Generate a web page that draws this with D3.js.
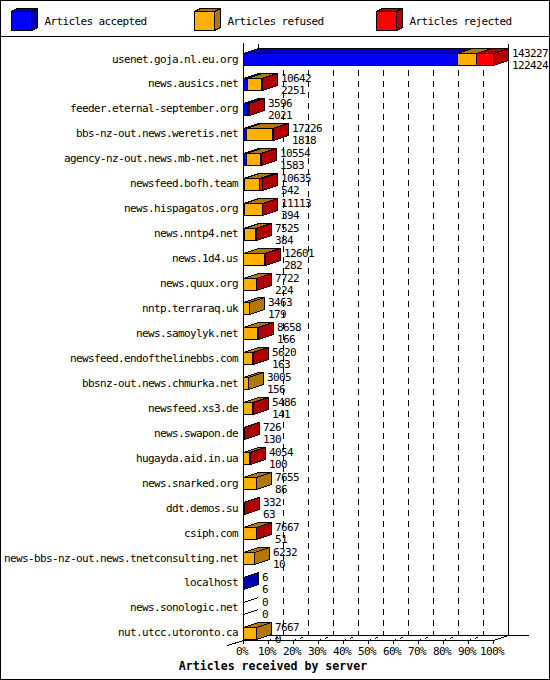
<!DOCTYPE html>
<html>
<head>
<meta charset="utf-8">
<script src="https://cdn.jsdelivr.net/npm/d3@7"></script>
<style>
  body { margin: 0; background: #fff; }
  svg { display: block; font-family: "DejaVu Sans Mono", monospace; font-size: 11px; letter-spacing: -0.62px; }
</style>
</head>
<body>
<svg id="chart"></svg>
<script>
// innd incoming feeds, one row per server
const servers = [
  "usenet.goja.nl.eu.org", "news.ausics.net", "feeder.eternal-september.org",
  "bbs-nz-out.news.weretis.net", "agency-nz-out.news.mb-net.net", "newsfeed.bofh.team",
  "news.hispagatos.org", "news.nntp4.net", "news.1d4.us", "news.quux.org",
  "nntp.terraraq.uk", "news.samoylyk.net", "newsfeed.endofthelinebbs.com",
  "bbsnz-out.news.chmurka.net", "newsfeed.xs3.de", "news.swapon.de", "hugayda.aid.in.ua",
  "news.snarked.org", "ddt.demos.su", "csiph.com", "news-bbs-nz-out.news.tnetconsulting.net",
  "localhost", "news.sonologic.net", "nut.utcc.utoronto.ca"
];
const offered = [143227, 10642, 3596, 17226, 10554, 10635, 11113, 7525, 12601, 7722, 3463, 8658,
  5620, 3005, 5486, 726, 4054, 7655, 332, 7667, 6232, 6, 0, 7667];
const accepted = [122424, 2251, 2021, 1818, 1583, 542, 394, 384, 282, 224, 179, 166,
  163, 156, 141, 130, 100, 86, 63, 51, 10, 6, 0, 0];
// refused / rejected are estimated from the bar segments
const refused = [11000, 8091, 900, 14808, 8071, 8893, 10319, 6741, 11519, 6998, 3284, 7792,
  4857, 2849, 4845, 50, 3354, 7569, 0, 7216, 6222, 0, 0, 7667];
const rejected = [9803, 300, 675, 600, 900, 1200, 400, 400, 800, 500, 0, 700,
  600, 0, 500, 546, 600, 0, 269, 400, 0, 0, 0, 0];

const percentTicks = [0, 10, 20, 30, 40, 50, 60, 70, 80, 90, 100];
const seriesNames = ["Articles accepted", "Articles refused", "Articles rejected"];
const seriesColors = ["#0000ff", "#ffb000", "#ff0000"];
const seriesShades = ["#0000b0", "#b07800", "#b00000"];

// front, top and side faces of a box
function boxFaces(x0, x1, y0, y1, dx, dy) {
  return [
    { face: "side", d: `M${x1},${y0}L${x1 + dx},${y0 - dy}V${y1 - dy}L${x1},${y1}Z` },
    { face: "top", d: `M${x0},${y0}L${x0 + dx},${y0 - dy}H${x1 + dx}L${x1},${y0}Z` },
    { face: "front", d: `M${x0},${y0}H${x1}V${y1}H${x0}Z` }
  ];
}

class StackedBar3D {
  constructor(_config, _data) {
    this.config = {
      parentElement: _config.parentElement,
      containerWidth: _config.containerWidth || 550,
      containerHeight: _config.containerHeight || 680,
      plot: { left: 243, right: 493, top: 43, bottom: 640 },
      depth: { x: 15, y: 5 },
      barHeight: 12
    };
    this.data = _data;
    this.initVis();
  }

  initVis() {
    let vis = this;
    const c = vis.config;

    vis.svg = d3.select(c.parentElement)
      .attr("width", c.containerWidth)
      .attr("height", c.containerHeight)
      .attr("shape-rendering", "crispEdges");

    vis.xScale = d3.scaleLinear()
      .domain([0, d3.max(vis.data, d => d.offered)])
      .range([c.plot.left, c.plot.right]);

    vis.pctScale = d3.scaleLinear()
      .domain([0, 100])
      .range([c.plot.left, c.plot.right]);

    vis.yScale = d3.scaleBand()
      .domain(vis.data.map(d => d.server))
      .range([46.5, 645.3]);

    // outer frame and legend strip
    vis.svg.append("rect")
      .attr("x", 0.5).attr("y", 0.5)
      .attr("width", c.containerWidth - 1).attr("height", c.containerHeight - 1)
      .attr("fill", "#fff").attr("stroke", "#000");
    vis.svg.append("line")
      .attr("x1", 0).attr("x2", c.containerWidth)
      .attr("y1", 36.5).attr("y2", 36.5)
      .attr("stroke", "#000");

    const legend = vis.svg.append("g").attr("class", "legend");
    seriesNames.forEach((name, i) => {
      const x0 = Math.round(11 + i * 182.5) + 0.5;
      const item = legend.append("g");
      item.selectAll("path")
        .data(boxFaces(x0, x0 + 20, 11.5, 30.5, 6, 3))
        .join("path")
        .attr("d", f => f.d)
        .attr("fill", f => f.face === "front" ? seriesColors[i] : seriesShades[i])
        .attr("stroke", "#000");
      item.append("text")
        .attr("x", x0 + 33)
        .attr("y", 24.5)
        .text(name);
    });

    vis.chart = vis.svg.append("g");

    const back = c.plot.bottom - c.depth.y;

    // dashed grid on the back wall and the floor
    const inner = percentTicks.slice(1, -1);
    vis.chart.selectAll(".grid")
      .data(inner)
      .join("line")
      .attr("class", "grid")
      .attr("x1", d => Math.round(vis.pctScale(d)) + c.depth.x + 0.5)
      .attr("x2", d => Math.round(vis.pctScale(d)) + c.depth.x + 0.5)
      .attr("y1", 48)
      .attr("y2", back + 0.5)
      .attr("stroke", "#000")
      .attr("stroke-dasharray", "6,5");
    vis.chart.selectAll(".floor-grid")
      .data(inner)
      .join("line")
      .attr("class", "floor-grid")
      .attr("x1", d => Math.round(vis.pctScale(d)) + 0.5)
      .attr("y1", c.plot.bottom + 0.5)
      .attr("x2", d => Math.round(vis.pctScale(d)) + c.depth.x + 0.5)
      .attr("y2", back + 0.5)
      .attr("stroke", "#000")
      .attr("stroke-dasharray", "3,4");

    const frame = [
      [c.plot.left + c.depth.x, c.plot.top, c.plot.left + c.depth.x, 48],
      [c.plot.right + c.depth.x, c.plot.top, c.plot.right + c.depth.x, back],
      [c.plot.left + c.depth.x, back, c.plot.right + c.depth.x + 20, back],
      [c.plot.left, c.plot.bottom, c.plot.right, c.plot.bottom],
      [c.plot.right, c.plot.bottom, c.plot.right + c.depth.x, back],
      [c.plot.left - 16, c.plot.bottom + 5, c.plot.left, c.plot.bottom]
    ];
    vis.chart.selectAll(".frame")
      .data(frame)
      .join("line")
      .attr("class", "frame")
      .attr("x1", d => d[0] + 0.5).attr("y1", d => d[1] + 0.5)
      .attr("x2", d => d[2] + 0.5).attr("y2", d => d[3] + 0.5)
      .attr("stroke", "#000");

    vis.barsG = vis.svg.append("g").attr("class", "bars");
    vis.labelsG = vis.svg.append("g").attr("class", "values");

    // front y axis line
    vis.svg.append("line")
      .attr("x1", c.plot.left + 0.5).attr("x2", c.plot.left + 0.5)
      .attr("y1", c.plot.top).attr("y2", c.plot.bottom + 0.5)
      .attr("stroke", "#000");

    vis.xAxis = d3.axisBottom(vis.pctScale)
      .tickValues(percentTicks)
      .tickFormat(d => d + "%")
      .tickSize(4)
      .tickPadding(3)
      .tickSizeOuter(0);

    vis.yAxis = d3.axisLeft(vis.yScale)
      .tickSize(0)
      .tickPadding(5);

    vis.xAxisG = vis.svg.append("g")
      .attr("transform", `translate(0,${c.plot.bottom})`);
    vis.yAxisG = vis.svg.append("g")
      .attr("transform", `translate(${c.plot.left},0)`);

    vis.svg.append("text")
      .attr("x", 273)
      .attr("y", 670)
      .attr("text-anchor", "middle")
      .style("font-size", "11.6px")
      .style("letter-spacing", "0px")
      .style("font-weight", "bold")
      .text("Articles received by server");

    vis.renderVis();
  }

  renderVis() {
    let vis = this;
    const c = vis.config;
    const dx = c.depth.x, dy = c.depth.y;

    // one box per non-empty segment
    vis.boxes = [];
    vis.empty = [];
    vis.data.forEach(d => {
      const cy = vis.yScale(d.server) + vis.yScale.bandwidth() / 2;
      const y0 = Math.round(cy - c.barHeight / 2) + 0.5;
      const y1 = y0 + c.barHeight;
      d.cy = cy;
      if (d.offered === 0) {
        vis.empty.push({ x: vis.xScale(0) + 0.5, y0, y1 });
        return;
      }
      let cum = 0;
      d.parts.forEach((v, i) => {
        if (v <= 0) return;
        const xa = Math.round(vis.xScale(cum)) + 0.5;
        cum += v;
        const xb = Math.round(vis.xScale(cum)) + 0.5;
        vis.boxes.push({ server: d.server, i, faces: boxFaces(xa, xb, y0, y1, dx, dy) });
      });
    });

    vis.barsG.selectAll(".box")
      .data(vis.boxes)
      .join("g")
      .attr("class", "box")
      .selectAll("path")
      .data(b => b.faces.map(f => ({ ...f, i: b.i })))
      .join("path")
      .attr("d", f => f.d)
      .attr("fill", f => f.face === "front" ? seriesColors[f.i] : seriesShades[f.i])
      .attr("stroke", "#000");

    vis.barsG.selectAll(".empty")
      .data(vis.empty.flatMap(e => [[e.x, e.y0], [e.x, e.y1]]))
      .join("line")
      .attr("class", "empty")
      .attr("x1", d => d[0]).attr("y1", d => d[1])
      .attr("x2", d => d[0] + dx).attr("y2", d => d[1] - dy)
      .attr("stroke", "#000");

    // total offered above, accepted below
    const vals = vis.labelsG.selectAll(".val")
      .data(vis.data)
      .join("g")
      .attr("class", "val")
      .attr("transform", d => `translate(${Math.round(vis.xScale(d.offered)) + dx + 4},${d.cy})`);
    vals.append("text").attr("y", -2).text(d => d.offered);
    vals.append("text").attr("y", 10).text(d => d.accepted);

    vis.xAxisG.call(vis.xAxis);
    vis.xAxisG.select(".domain").remove();
    vis.xAxisG.attr("font-family", null).attr("font-size", null);
    vis.xAxisG.selectAll("text").attr("dx", -1.5).attr("fill", "#000");

    vis.yAxisG.call(vis.yAxis);
    vis.yAxisG.select(".domain").remove();
    vis.yAxisG.attr("font-family", null).attr("font-size", null);
    vis.yAxisG.selectAll("text").attr("fill", "#000");
  }
}

const rows = servers.map((s, i) => ({
  server: s,
  offered: offered[i],
  accepted: accepted[i],
  parts: [accepted[i], refused[i], rejected[i]]
}));

new StackedBar3D({ parentElement: "#chart" }, rows);
</script>
</body>
</html>
